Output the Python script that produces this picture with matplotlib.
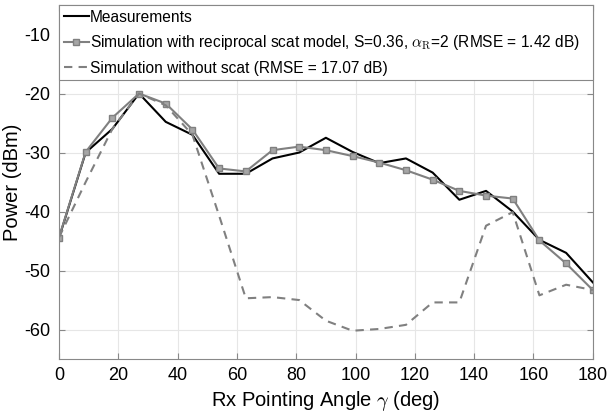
import numpy as np
import matplotlib
matplotlib.use("Agg")
import matplotlib.pyplot as plt

plt.rcParams['font.family'] = ['Liberation Sans', 'DejaVu Sans']
plt.rcParams['mathtext.fontset'] = 'cm'
plt.rcParams['axes.unicode_minus'] = False

# pointing angles (deg)
angle = np.arange(0, 181, 9)

measured = [-44.5, -30.0, -26.0, -20.0, -24.8, -27.0, -33.6, -33.6, -31.0, -30.0, -27.5,
            -29.9, -31.8, -31.0, -33.4, -38.0, -36.5, -40.0, -44.8, -47.0, -52.0]
sim_scat = [-44.4, -29.9, -24.1, -20.0, -21.7, -26.1, -32.7, -33.2, -29.6, -29.0, -29.6,
            -30.6, -31.7, -33.0, -34.6, -36.5, -37.3, -37.8, -44.9, -48.8, -53.3]
sim_noscat = [-44.4, -35.0, -26.0, -20.0, -22.0, -27.0, -40.7, -54.7, -54.5, -55.0, -58.5,
              -60.2, -59.9, -59.2, -55.4, -55.4, -42.4, -40.1, -54.2, -52.4, -53.3]

fig, ax = plt.subplots(figsize=(6.08, 4.18), dpi=100)
fig.subplots_adjust(left=0.097, right=0.975, top=0.988, bottom=0.141)

gray = '#808080'
ax.plot(angle, measured, color='black', lw=1.5, label='Measurements')
ax.plot(angle, sim_scat, color=gray, lw=1.5, marker='s', markersize=4.5,
        markerfacecolor='#a6a6a6', markeredgecolor=gray,
        label=r'Simulation with reciprocal scat model, S=0.36, $\alpha_\mathrm{R}$=2 (RMSE = 1.42 dB)')
ax.plot(angle, sim_noscat, color=gray, lw=1.5, ls=(0, (4, 3)),
        label='Simulation without scat (RMSE = 17.07 dB)')

ax.set_xlim(0, 180)
ax.set_ylim(-65, -5)
ax.set_xticks(np.arange(0, 181, 20))
ax.set_yticks([-60, -50, -40, -30, -20, -10])
ax.grid(True, color='#e6e6e6', lw=0.8)
ax.set_axisbelow(True)
for s in ax.spines.values():
    s.set_color('#888888')
    s.set_linewidth(0.8)
ax.tick_params(direction='in', top=True, right=True, labelsize=13, color='#888888',
               length=4, pad=6)

ax.set_xlabel(r'Rx Pointing Angle $\gamma$ (deg)', fontsize=14.5, labelpad=3)
ax.set_ylabel('Power (dBm)', fontsize=14.5, labelpad=2)

leg = ax.legend(loc='upper left', bbox_to_anchor=(0, 1, 1, 0), mode='expand',
                borderaxespad=0, fontsize=11.2, handlelength=1.6, handletextpad=0.1,
                borderpad=0.3, fancybox=False, framealpha=1, edgecolor='#888888',
                labelspacing=0.55)
leg.get_frame().set_linewidth(0.8)

fig.savefig('out.png', dpi=100)
